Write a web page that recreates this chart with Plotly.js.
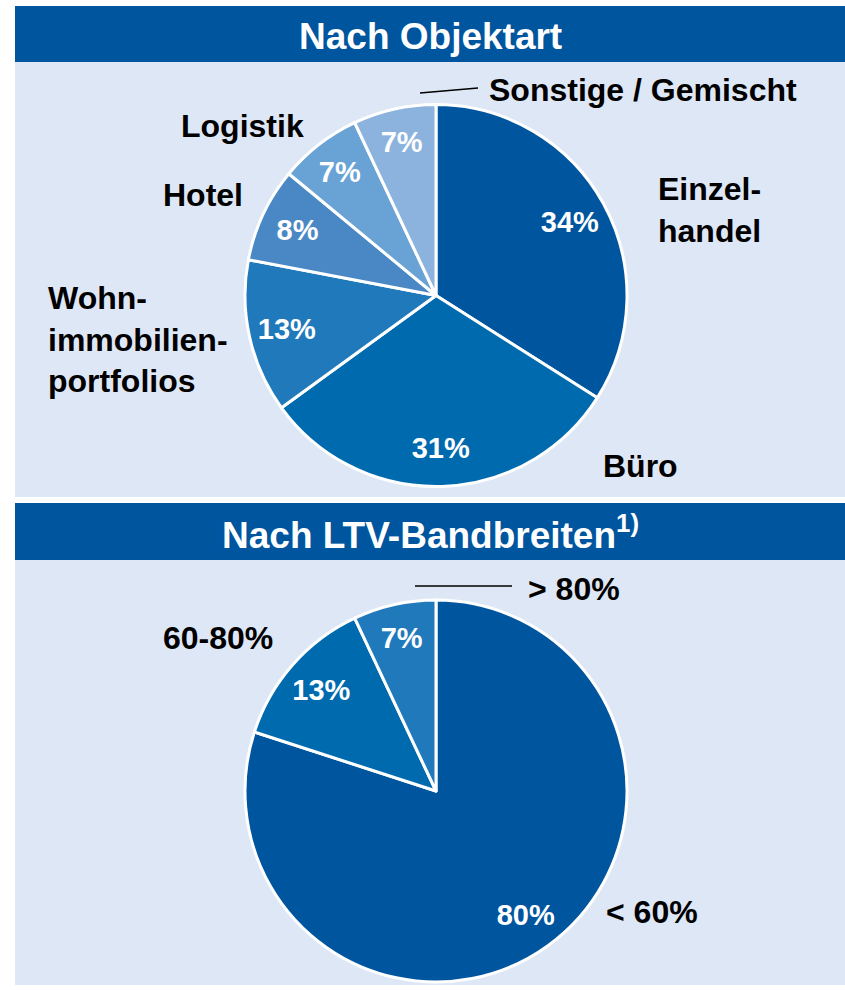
<!DOCTYPE html>
<html>
<head>
<meta charset="utf-8">
<script src="https://cdn.plot.ly/plotly-3.0.1.min.js"></script>
<style>
  html, body { margin: 0; padding: 0; background: #ffffff; }
  #chart { width: 845px; height: 990px; }
</style>
</head>
<body>
<div id="chart"></div>
<script>
// Nach Objektart
const objektLabels = ['Einzelhandel', 'Büro', 'Wohnimmobilienportfolios', 'Hotel', 'Logistik', 'Sonstige / Gemischt'];
const objektWerte = [34, 31, 13, 8, 7, 7];
const objektFarben = ['#00559f', '#006aae', '#2079ba', '#4a88c5', '#69a2d5', '#8cb3dd'];

// Nach LTV-Bandbreiten
const ltvLabels = ['< 60%', '60-80%', '> 80%'];
const ltvWerte = [80, 13, 7];
const ltvFarben = ['#00559f', '#006aae', '#2079ba'];

const fontBold = 'Liberation Sans, Arial, sans-serif';
const bg = '#dee7f5';
const kopf = '#00559f';

function px(x) { return x / 845; }
function py(y) { return 1 - y / 990; }

// volle Torte ohne Text
function torte(labels, werte, farben, yDomain) {
    return {
        type: 'pie',
        labels: labels,
        values: werte,
        sort: false,
        direction: 'clockwise',
        rotation: 0,
        domain: { x: [px(245), px(627)], y: yDomain },
        marker: { colors: farben, line: { color: '#ffffff', width: 3 } },
        textposition: 'none',
        hoverinfo: 'none',
        showlegend: false
    };
}

// transparenter Ring darüber, nur für die Prozentwerte (weiter außen platziert)
function prozente(labels, werte, yDomain) {
    return {
        type: 'pie',
        labels: labels,
        values: werte,
        sort: false,
        direction: 'clockwise',
        rotation: 0,
        hole: 0.6,
        domain: { x: [px(245), px(627)], y: yDomain },
        marker: { colors: werte.map(() => 'rgba(0,0,0,0)'), line: { width: 0 } },
        texttemplate: '%{value}%',
        textposition: 'inside',
        insidetextorientation: 'horizontal',
        insidetextfont: { family: fontBold, size: 29, color: '#ffffff', weight: 'bold' },
        hoverinfo: 'none',
        showlegend: false
    };
}

const obenY = [py(487), py(104)];
const untenY = [py(982), py(600)];

const daten = [
    torte(objektLabels, objektWerte, objektFarben, obenY),
    prozente(objektLabels, objektWerte, obenY),
    torte(ltvLabels, ltvWerte, ltvFarben, untenY),
    prozente(ltvLabels, ltvWerte, untenY)
];

function label(text, x, y) {
    return {
        text: text, xref: 'paper', yref: 'paper',
        x: px(x), y: py(y), xanchor: 'left', yanchor: 'middle',
        showarrow: false, align: 'left',
        font: { family: fontBold, size: 32, color: '#000000', weight: 'bold' }
    };
}

const layout = {
    width: 845,
    height: 990,
    margin: { l: 0, r: 0, t: 0, b: 0 },
    paper_bgcolor: '#ffffff',
    plot_bgcolor: '#ffffff',
    shapes: [
        { type: 'rect', xref: 'paper', yref: 'paper', x0: px(15), x1: 1, y0: py(62), y1: py(6), fillcolor: kopf, line: { width: 0 }, layer: 'below' },
        { type: 'rect', xref: 'paper', yref: 'paper', x0: px(15), x1: 1, y0: py(497), y1: py(62), fillcolor: bg, line: { width: 0 }, layer: 'below' },
        { type: 'rect', xref: 'paper', yref: 'paper', x0: px(15), x1: 1, y0: py(560), y1: py(503), fillcolor: kopf, line: { width: 0 }, layer: 'below' },
        { type: 'rect', xref: 'paper', yref: 'paper', x0: px(15), x1: 1, y0: py(985), y1: py(560), fillcolor: bg, line: { width: 0 }, layer: 'below' },
        { type: 'line', xref: 'paper', yref: 'paper', x0: px(420), x1: px(478), y0: py(93), y1: py(88), line: { color: '#000000', width: 1.5 } },
        { type: 'line', xref: 'paper', yref: 'paper', x0: px(415), x1: px(512), y0: py(586), y1: py(586), line: { color: '#000000', width: 1.5 } }
    ],
    annotations: [
        {
            text: 'Nach Objektart', xref: 'paper', yref: 'paper', x: px(430), y: py(36),
            xanchor: 'center', yanchor: 'middle', showarrow: false,
            font: { family: fontBold, size: 37, color: '#ffffff', weight: 'bold' }
        },
        {
            text: 'Nach LTV-Bandbreiten<sup>1)</sup>', xref: 'paper', yref: 'paper', x: px(430), y: py(532),
            xanchor: 'center', yanchor: 'middle', showarrow: false,
            font: { family: fontBold, size: 37, color: '#ffffff', weight: 'bold' }
        },
        label('Sonstige / Gemischt', 487, 90),
        label('Einzel-<br>handel', 656, 210),
        label('Büro', 601, 466),
        label('Wohn-<br>immobilien-<br>portfolios', 46, 339),
        label('Hotel', 161, 195),
        label('Logistik', 179, 126),
        label('> 80%', 526, 589),
        label('60-80%', 161, 638),
        label('< 60%', 604, 912)
    ]
};

Plotly.newPlot('chart', daten, layout, { displayModeBar: false, staticPlot: true });
</script>
</body>
</html>
